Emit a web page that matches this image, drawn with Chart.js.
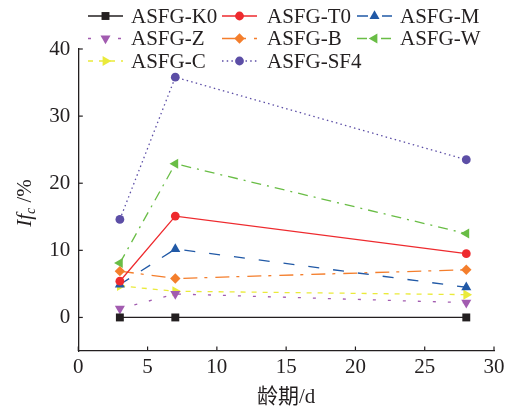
<!DOCTYPE html>
<html><head><meta charset="utf-8">
<script src="https://cdn.jsdelivr.net/npm/chart.js@4/dist/chart.umd.min.js"></script>
<style>html,body{margin:0;padding:0;background:#fff;}#wrap{width:510px;height:411px;}</style>
</head><body><div id="wrap"><canvas id="c" width="510" height="411"></canvas></div>
<script>
const ages = [3, 7, 28];
const seriesNames = ['ASFG-K0','ASFG-T0','ASFG-M','ASFG-Z','ASFG-B','ASFG-W','ASFG-C','ASFG-SF4'];
const K0 = [0, 0, 0];
const T0 = [5.4, 15.1, 9.5];
const M = [4.9, 10.2, 4.5];
const Z = [1.3, 3.5, 2.2];
const B = [6.9, 5.8, 7.1];
const W = [8.1, 22.9, 12.5];
const C = [4.7, 3.9, 3.4];
const SF4 = [14.6, 35.8, 23.5];
const xTicks = [0, 5, 10, 15, 20, 25, 30];
const yTicks = [0, 10, 20, 30, 40];
const xTitle = '龄期/d';

const values = [K0, T0, M, Z, B, W, C, SF4];
const styles = [
  {color:'#231f20', dash:[], ps:'rect', r:5.6, rot:0},
  {color:'#ee2a2e', dash:[], ps:'circle', r:4.4, rot:0},
  {color:'#2159a6', dash:[11,14], ps:'triangle', r:5.8, rot:0},
  {color:'#a25cb0', dash:[3,12], ps:'triangle', r:5.8, rot:180},
  {color:'#f47e2c', dash:[14,7,3,8], ps:'rectRot', r:5.2, rot:0},
  {color:'#69bd45', dash:[10,6,2,6], ps:'triangle', r:5.8, rot:-90},
  {color:'#eaea3a', dash:[5,6], ps:'triangle', r:5.8, rot:90},
  {color:'#5c4ea6', dash:[1.5,3.2], ps:'circle', r:4.4, rot:0}
];
const FONT = '"Liberation Serif","Times New Roman","Noto Sans CJK SC",serif';

const datasets = seriesNames.map((n,i)=>({
  label:n,
  data: ages.map((a,j)=>({x:a, y:values[i][j]})),
  borderColor: styles[i].color,
  backgroundColor: styles[i].color,
  borderWidth: 1.3,
  borderDash: styles[i].dash,
  pointStyle: styles[i].ps,
  pointRadius: styles[i].r,
  pointRotation: styles[i].rot,
  pointBorderWidth: 0,
  pointBackgroundColor: styles[i].color,
  tension: 0,
  clip: false
}));

function drawMarker(ctx, st, x, y){
  if (Chart.helpers && Chart.helpers.drawPoint) {
    ctx.save();
    ctx.fillStyle = st.color; ctx.strokeStyle = st.color; ctx.setLineDash([]);
    Chart.helpers.drawPoint(ctx, {pointStyle: st.ps, radius: st.r, rotation: st.rot, borderWidth: 0}, x, y);
    ctx.restore();
  }
}

const overlay = {
  id:'overlay',
  afterDraw(chart){
    const ctx = chart.ctx;
    const xs = chart.scales.x, ys = chart.scales.y;
    const ca = chart.chartArea;
    ctx.save();
    // inward tick marks
    ctx.strokeStyle = '#231f20'; ctx.lineWidth = 1.2; ctx.setLineDash([]);
    xTicks.forEach(v=>{ const px = xs.getPixelForValue(v); ctx.beginPath(); ctx.moveTo(px, ca.bottom); ctx.lineTo(px, ca.bottom-4.5); ctx.stroke(); });
    yTicks.forEach(v=>{ const py = ys.getPixelForValue(v); ctx.beginPath(); ctx.moveTo(ca.left, py); ctx.lineTo(ca.left+4.5, py); ctx.stroke(); });
    // x title
    ctx.fillStyle = '#231f20';
    ctx.font = '21px ' + FONT;
    ctx.textAlign = 'center'; ctx.textBaseline = 'middle';
    ctx.fillText(xTitle, (ca.left+ca.right)/2, 397);
    // y title: If_c /%
    ctx.save();
    ctx.translate(24, 203);
    ctx.rotate(-Math.PI/2);
    ctx.textBaseline = 'alphabetic';
    ctx.textAlign = 'left';
    const f1 = 'italic 21px ' + FONT, f2 = 'italic 14px ' + FONT, f3 = '21px ' + FONT;
    ctx.font = f1; const w1 = ctx.measureText('If').width;
    ctx.font = f2; const w2 = ctx.measureText('c').width;
    ctx.font = f3; const w3 = ctx.measureText(' /%').width;
    let x0 = -(w1+w2+w3)/2; const base = 7;
    ctx.font = f1; ctx.fillText('If', x0, base); x0 += w1;
    ctx.font = f2; ctx.fillText('c', x0, base+4); x0 += w2;
    ctx.font = f3; ctx.fillText(' /%', x0, base);
    ctx.restore();
    // legend
    const cols = [{l:88, m:105.5, r:123, t:131}, {l:222, m:239.5, r:257, t:267}, {l:357, m:374.5, r:392, t:400}];
    const rows = [16, 38.5, 61];
    ctx.font = '21px ' + FONT; ctx.textAlign='left'; ctx.textBaseline='middle';
    seriesNames.forEach((n,i)=>{
      const c = cols[i%3], y = rows[Math.floor(i/3)], st = styles[i];
      ctx.save();
      ctx.strokeStyle = st.color; ctx.lineWidth = 1.3; ctx.setLineDash(st.dash);
      ctx.beginPath(); ctx.moveTo(c.l, y); ctx.lineTo(c.r, y); ctx.stroke();
      ctx.restore();
      drawMarker(ctx, st, c.m, y);
      ctx.fillStyle = '#231f20';
      ctx.fillText(n, c.t, y+1);
    });
    ctx.restore();
  }
};

new Chart(document.getElementById('c'), {
  type:'line',
  data:{datasets},
  options:{
    responsive:false, animation:false, devicePixelRatio:1,
    layout:{padding:{top:49, right:16, left:0, bottom:0}},
    plugins:{legend:{display:false}, tooltip:{enabled:false}},
    scales:{
      x:{type:'linear', min:0, max:30,
        afterBuildTicks(s){ s.ticks = xTicks.map(v=>({value:v})); },
        afterFit(s){ s.height = 60; },
        grid:{display:true, drawOnChartArea:false, drawTicks:false},
        border:{display:true, color:'#231f20', width:1.3},
        ticks:{padding:4, color:'#231f20', font:{family:FONT, size:21}, maxRotation:0}
      },
      y:{type:'linear', min:-5, max:40,
        afterBuildTicks(s){ s.ticks = yTicks.map(v=>({value:v})); },
        afterFit(s){ s.width = 78.3; },
        grid:{display:true, drawOnChartArea:false, drawTicks:false},
        border:{display:true, color:'#231f20', width:1.3},
        ticks:{padding:8, color:'#231f20', font:{family:FONT, size:21}}
      }
    }
  },
  plugins:[overlay]
});
</script></body></html>
